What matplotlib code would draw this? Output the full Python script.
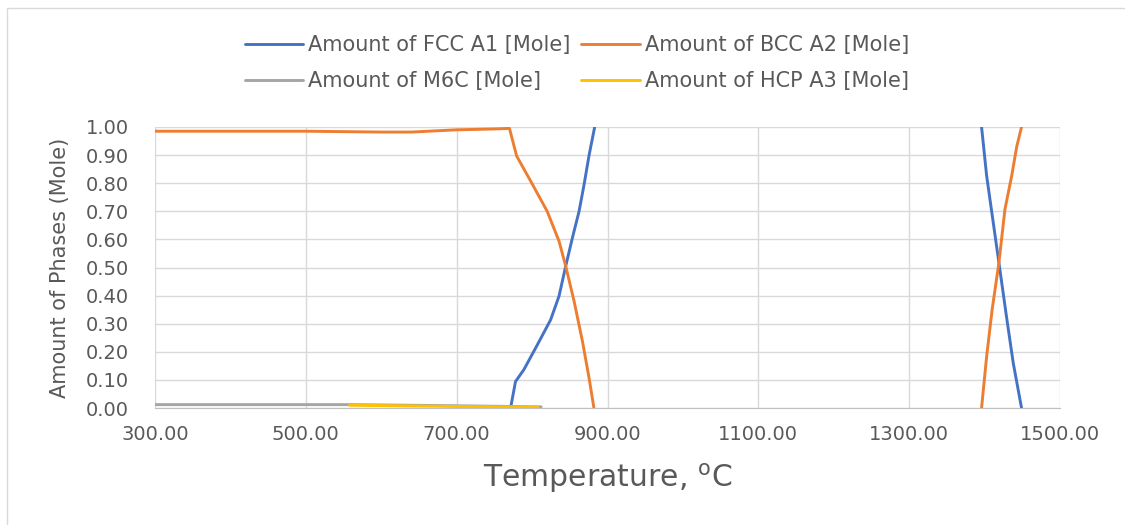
import numpy as np
import matplotlib
matplotlib.use("Agg")
import matplotlib.pyplot as plt
from matplotlib.patches import Rectangle


nan = np.nan

# phase fractions vs temperature (gaps where the curve sits on the axis limits)
fcc_temp = [771.5, 778, 789, 807, 824.6, 835.7, 844.6, 853.5, 862.3, 869, 875.6, 883,
            nan, 1396, 1402.7, 1409, 1419, 1429, 1438, 1449]
fcc_amount = [0.0, 0.094, 0.136, 0.225, 0.314, 0.398, 0.505, 0.606, 0.70, 0.796, 0.90, 1.0,
              nan, 1.0, 0.827, 0.707, 0.517, 0.326, 0.16, 0.0]

bcc_temp = [300, 400, 500, 600, 640, 700, 750, 770, 779.5, 798, 820, 835.7, 844.6, 855.7,
            866.8, 875.6, 882, nan, 1396, 1402.7, 1410, 1419, 1427, 1436, 1442.6, 1449]
bcc_amount = [0.985, 0.985, 0.985, 0.982, 0.982, 0.99, 0.993, 0.995, 0.897, 0.808, 0.70,
              0.594, 0.505, 0.38, 0.237, 0.106, 0.0, nan, 0.0, 0.183, 0.35, 0.517, 0.707,
              0.827, 0.93, 1.0]

m6c_temp = [300, 560, 700, 812]
m6c_amount = [0.012, 0.012, 0.008, 0.004]

hcp_temp = [558, 650, 750, 808]
hcp_amount = [0.010, 0.007, 0.004, 0.003]

x_ticks = [300, 500, 700, 900, 1100, 1300, 1500]
y_ticks = [0.0, 0.1, 0.2, 0.3, 0.4, 0.5, 0.6, 0.7, 0.8, 0.9, 1.0]

TEXT = "#595959"
GRID = "#d9d9d9"

plt.rcParams["font.family"] = ["DejaVu Sans"]
plt.rcParams["mathtext.fontset"] = "dejavusans"

W, H = 1125, 525
fig = plt.figure(figsize=(W / 100, H / 100), dpi=100)
# chart frame, runs off the right and bottom edges
fig.patches.append(Rectangle((7 / W, -0.1), 1.2, 1 - 8 / H + 0.1, transform=fig.transFigure,
                             fill=False, edgecolor=GRID, linewidth=1))

ax = fig.add_axes([155 / W, 1 - 408 / H, 905 / W, 281 / H])

series = [
    (fcc_temp, fcc_amount, "#4472C4", "Amount of FCC A1 [Mole]"),
    (bcc_temp, bcc_amount, "#ED7D31", "Amount of BCC A2 [Mole]"),
    (m6c_temp, m6c_amount, "#A5A5A5", "Amount of M6C [Mole]"),
    (hcp_temp, hcp_amount, "#FFC000", "Amount of HCP A3 [Mole]"),
]
lines = []
for t, v, c, lab in series:
    ln, = ax.plot(t, v, color=c, linewidth=2.1, label=lab, solid_capstyle="round")
    lines.append(ln)

ax.set_xlim(300, 1500)
ax.set_ylim(0, 1.0)
ax.set_xticks(x_ticks)
ax.set_xticklabels([f"{v:.2f}" for v in x_ticks])
ax.set_yticks(y_ticks)
ax.set_yticklabels([f"{v:.2f}" for v in y_ticks])
ax.grid(True, color=GRID, linewidth=1)
ax.set_axisbelow(True)
for side in ["top", "right", "left"]:
    ax.spines[side].set_visible(False)
ax.spines["bottom"].set_color("#bfbfbf")
ax.tick_params(length=0, colors=TEXT, labelsize=14)
ax.tick_params(axis="y", pad=19)
ax.tick_params(axis="x", pad=12)

ax.set_ylabel("Amount of Phases (Mole)", fontsize=15, color=TEXT, va="center")
ax.yaxis.set_label_coords(-0.105, 0.5)
ax.set_xlabel(r"Temperature, $^{\mathrm{o}}$C", fontsize=21.5, color=TEXT, va="center")
ax.xaxis.set_label_coords(0.5, -0.25)

# legend fills column-wise, so order it to read FCC/BCC on the first row
order = [0, 2, 1, 3]
fig.legend([lines[i] for i in order], [series[i][3] for i in order], ncol=2, loc="center",
           bbox_to_anchor=(577 / W, 1 - 63 / H), frameon=False, fontsize=15, labelcolor=TEXT,
           handlelength=2.8, handletextpad=0.25, columnspacing=0.5, labelspacing=0.75)

fig.savefig("out.png", dpi=100)
